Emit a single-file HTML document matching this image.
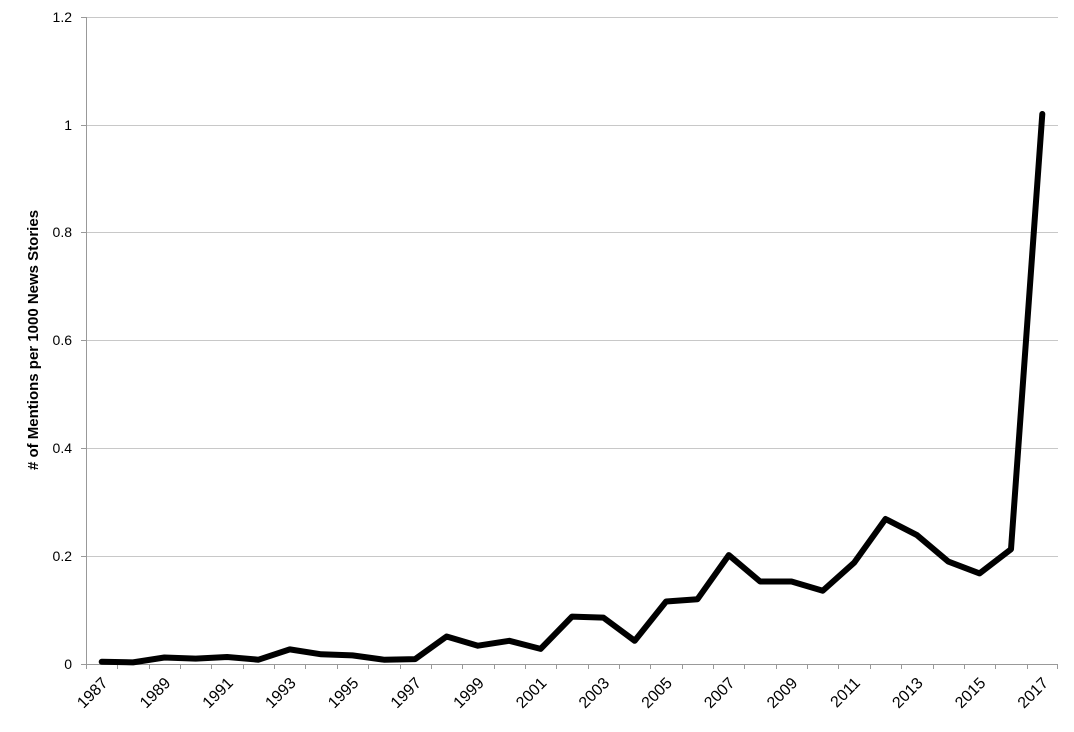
<!DOCTYPE html>
<html><head><style>body{margin:0;background:#fff}</style></head><body>
<svg width="1074" height="727" xmlns="http://www.w3.org/2000/svg" font-family="Liberation Sans, sans-serif">
<g stroke="#c8c8c8" stroke-width="1">
<line x1="86" x2="1058" y1="17.5" y2="17.5"/><line x1="86" x2="1058" y1="125.5" y2="125.5"/>
<line x1="86" x2="1058" y1="232.5" y2="232.5"/><line x1="86" x2="1058" y1="340.5" y2="340.5"/>
<line x1="86" x2="1058" y1="448.5" y2="448.5"/><line x1="86" x2="1058" y1="556.5" y2="556.5"/>
</g>
<g stroke="#999" stroke-width="1">
<line x1="86.5" x2="86.5" y1="17" y2="664"/>
<line x1="86" x2="1058" y1="664.5" y2="664.5"/>
<line x1="81" x2="86" y1="17.5" y2="17.5"/><line x1="81" x2="86" y1="125.5" y2="125.5"/><line x1="81" x2="86" y1="232.5" y2="232.5"/><line x1="81" x2="86" y1="340.5" y2="340.5"/><line x1="81" x2="86" y1="448.5" y2="448.5"/><line x1="81" x2="86" y1="556.5" y2="556.5"/><line x1="81" x2="86" y1="664.5" y2="664.5"/>
<path d="M86.5 664v5M117.5 664v5M149.5 664v5M180.5 664v5M211.5 664v5M243.5 664v5M274.5 664v5M305.5 664v5M337.5 664v5M368.5 664v5M400.5 664v5M431.5 664v5M462.5 664v5M494.5 664v5M525.5 664v5M556.5 664v5M588.5 664v5M619.5 664v5M650.5 664v5M682.5 664v5M713.5 664v5M744.5 664v5M776.5 664v5M807.5 664v5M838.5 664v5M870.5 664v5M901.5 664v5M933.5 664v5M964.5 664v5M995.5 664v5M1027.5 664v5M1057.5 664v5"/>
</g>
<g font-size="14" text-anchor="end" fill="#000">
<text x="72" y="22">1.2</text><text x="72" y="130">1</text><text x="72" y="237">0.8</text><text x="72" y="345">0.6</text><text x="72" y="453">0.4</text><text x="72" y="561">0.2</text><text x="72" y="669">0</text>
</g>
<text transform="translate(38,340) rotate(-90)" text-anchor="middle" font-size="15" font-weight="bold"># of Mentions per 1000 News Stories</text>
<g font-size="16" text-anchor="end">
<text transform="translate(108.7,684) rotate(-45)">1987</text>
<text transform="translate(171.4,684) rotate(-45)">1989</text>
<text transform="translate(234.1,684) rotate(-45)">1991</text>
<text transform="translate(296.8,684) rotate(-45)">1993</text>
<text transform="translate(359.5,684) rotate(-45)">1995</text>
<text transform="translate(422.2,684) rotate(-45)">1997</text>
<text transform="translate(484.9,684) rotate(-45)">1999</text>
<text transform="translate(547.6,684) rotate(-45)">2001</text>
<text transform="translate(610.3,684) rotate(-45)">2003</text>
<text transform="translate(673,684) rotate(-45)">2005</text>
<text transform="translate(735.7,684) rotate(-45)">2007</text>
<text transform="translate(798.4,684) rotate(-45)">2009</text>
<text transform="translate(861.1,684) rotate(-45)">2011</text>
<text transform="translate(923.8,684) rotate(-45)">2013</text>
<text transform="translate(986.5,684) rotate(-45)">2015</text>
<text transform="translate(1049.2,684) rotate(-45)">2017</text>
</g>
<polyline id="line" fill="none" stroke="#000" stroke-width="6" stroke-linejoin="round" stroke-linecap="round"/>
<script>
var d=[0.004,0.003,0.012,0.01,0.013,0.008,0.027,0.018,0.016,0.008,0.009,0.051,0.034,0.043,0.028,0.088,0.086,0.043,0.116,0.12,0.202,0.153,0.153,0.136,0.188,0.269,0.239,0.19,0.168,0.213,1.02];
var w=972/31,pts=[];
for(var i=0;i<31;i++){var x=86+w*(i+0.5);pts.push(x.toFixed(1)+','+(664-d[i]*539.2).toFixed(1));}
document.getElementById('line').setAttribute('points',pts.join(' '));
</script>
</svg>
</body></html>
